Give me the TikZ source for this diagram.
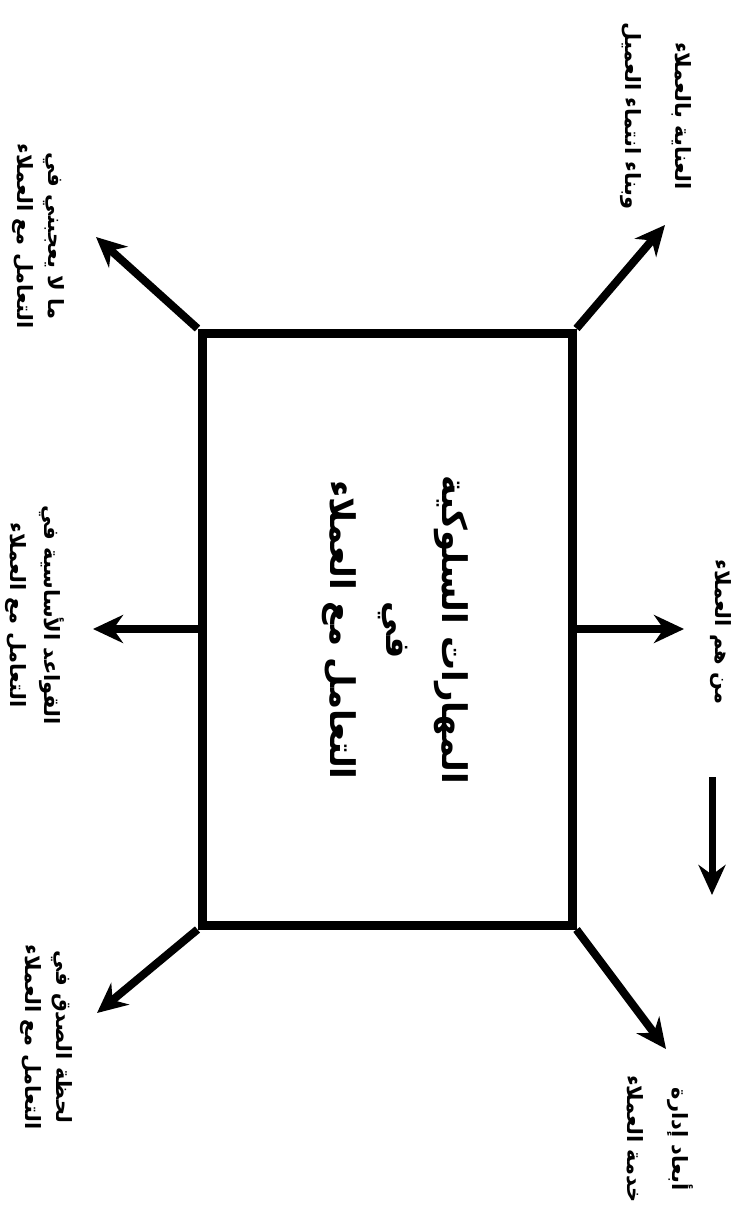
\documentclass[tikz,border=0pt]{standalone}
\usepackage{fontspec}
\usetikzlibrary{arrows.meta}
\TeXXeTstate=1
\newfontfamily\arabicfont[Script=Arabic]{DejaVu Sans}
\newcommand{\arline}[1]{\beginR #1\endR}
\begin{document}
\begin{tikzpicture}[x=1pt,y=-1pt,
  lbl/.style={rotate=-90, align=center, inner sep=0pt,
    font=\arabicfont\bfseries\fontsize{21}{#1}\selectfont},
  lbl/.default=34,
  ttl/.style={rotate=-90, align=center, inner sep=0pt,
    font=\arabicfont\bfseries\fontsize{34}{56}\selectfont},
  frame/.style={draw, line width=9pt, minimum width=370pt, minimum height=592pt, inner sep=0pt},
  conn/.style={line width=8pt, -{Stealth[length=30pt,width=28pt]}},
  lone/.style={line width=7pt, -{Stealth[length=30pt,width=27pt]}}]
\useasboundingbox (0,0) rectangle (739,1230);
\node[frame] (box) at (387,629) {};
\node[ttl] (title) at (395,630) {\arline{المهارات السلوكية}\\\arline{في}\\\arline{التعامل مع العملاء}};
% arrow ends
\coordinate (tlT) at (96,237);
\coordinate (trT) at (665,225);
\coordinate (blT) at (97,1013);
\coordinate (brT) at (666,1049);
\coordinate (mlT) at (93,629);
\coordinate (mrT) at (684,629);
\coordinate (sa1) at (712,777);
\coordinate (sa2) at (712,895);
\draw[conn] (box.north west) -- (tlT);
\draw[conn] (box.north east) -- (trT);
\draw[conn] (box.south west) -- (blT);
\draw[conn] (box.south east) -- (brT);
\draw[conn] (box.west) -- (mlT);
\draw[conn] (box.east) -- (mrT);
\draw[lone] (sa1) -- (sa2);
% labels
\node[lbl=50] (tr) at (656,116) {\arline{العناية بالعملاء}\\\arline{وبناء انتماء العميل}};
\node[lbl=31] (tl) at (38,236) {\arline{ما لا يعجبني في}\\\arline{التعامل مع العملاء}};
\node[lbl] (mr) at (721,632) {\arline{من هم العملاء}};
\node[lbl=34] (ml) at (35,615) {\arline{القواعد الأساسية في}\\\arline{التعامل مع العملاء}};
\node[lbl=31] (bl) at (46,1037) {\arline{لحظة الصدق في}\\\arline{التعامل مع العملاء}};
\node[lbl=45] (br) at (660,1139) {\arline{أبعاد إدارة}\\\arline{خدمة العملاء}};
\end{tikzpicture}
\end{document}
